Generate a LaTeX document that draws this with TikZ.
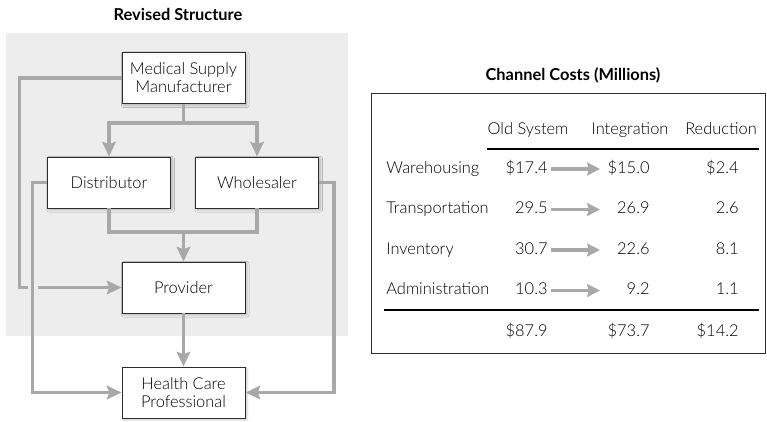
\documentclass[tikz,border=0pt]{standalone}
\usepackage{fontspec}
\setmainfont{Lato Light}[BoldFont={Lato Bold}]
\usetikzlibrary{arrows.meta, shadows.blur}

\begin{document}
\begin{tikzpicture}[
    x=0.03cm, y=-0.03cm,
    unit/.style={
        draw=boxline, fill=white, line width=0.8pt, minimum width=3.69cm, minimum height=1.53cm,
        align=center, font=\fontsize{14}{15.5}\selectfont, inner sep=2pt,
        blur shadow={shadow xshift=1.5pt, shadow yshift=-1.5pt, shadow opacity=25}
    },
    flow/.style={draw=flowgray, line width=3pt, -{Stealth[length=12.5pt, width=11.5pt, inset=2pt]}},
    link/.style={draw=flowgray, line width=3pt},
    heading/.style={font=\fontsize{14}{16}\selectfont\bfseries},
    cell/.style={font=\fontsize{14}{16}\selectfont, inner sep=1pt, text height=10pt, text depth=3pt},
    change/.style={draw=flowgray, line width=3pt, -{Stealth[length=11pt, width=11pt, inset=1.5pt]}}
]

% ============================
% COLOR DEFINITIONS
% ============================
\definecolor{bggray}{HTML}{EDEDED}     % panel behind the channel
\definecolor{flowgray}{HTML}{A8A8AA}   % connectors
\definecolor{boxline}{HTML}{2E2E2E}    % box outlines

\useasboundingbox (0,0) rectangle (767,421);

% ============================
% LEFT: Revised Structure
% ============================
\node[heading] (revtitle) at (178,14) {Revised Structure};
\fill[bggray] (6,33) rectangle (348,336);

% --- boxes ---
\node[unit] (man)   at (183.5,78)  {Medical Supply\\Manufacturer};
\node[unit] (dist)  at (109,182.5) {Distributor};
\node[unit] (whole) at (257,182.5) {Wholesaler};
\node[unit] (prov)  at (183.5,287.5) {Provider};
\node[unit] (hcp)   at (183.5,392.5) {Health Care\\Professional};

% --- split and merge points ---
\coordinate (split) at (183.5,123);
\coordinate (merge) at (183.5,232);

\draw[link] (man.south) -- (split);
\draw[flow] (split) -| (dist.north);
\draw[flow] (split) -| (whole.north);
\draw[link] (dist.south) |- (merge) -| (whole.south);
\draw[flow] (merge) -- (prov.north);
\draw[flow] (prov.south) -- (hcp.north);

% --- bypass routes ---
\draw[flow] (man.west) -- ++(-102,0) |- (prov.west);
\node[fill=bggray, inner sep=0pt, minimum width=0.3cm, minimum height=0.2cm] (gap) at (33,287.5) {};
\draw[flow] (dist.west) -- ++(-14.5,0) |- (hcp.west);
\draw[flow] (whole.east) -- ++(15,0) |- (hcp.east);

% ============================
% RIGHT: Channel Costs
% ============================
\node[heading] (costtitle) at (573,75) {Channel Costs (Millions)};
\draw[boxline, line width=0.8pt] (371,93) rectangle (765.5,353);

% --- column heads ---
\node[cell] (hold) at (528,130) {Old System};
\node[cell] (hnew) at (630,130) {Integration};
\node[cell] (hred) at (721,130) {Reduction};
\draw[black, line width=1.2pt] (487,149) -- (759,149);

\coordinate (tipx) at (600,0);

% --- rows ---
\foreach \lab/\old/\new/\red [count=\i] in {
    Warehousing/\$17.4/\$15.0/\$2.4,
    Transportation/29.5/26.9/2.6,
    Inventory/30.7/22.6/8.1,
    Administration/10.3/9.2/1.1}{
    \node[cell, anchor=west] (lab\i) at (385,128.5+40.5*\i) {\lab};
    \node[cell, anchor=east] (old\i) at (549,128.5+40.5*\i) {\old};
    \node[cell, anchor=east] (new\i) at (651,128.5+40.5*\i) {\new};
    \node[cell, anchor=east] (red\i) at (740,128.5+40.5*\i) {\red};
    \draw[change] ([xshift=2pt]old\i.east) -- (old\i.east -| tipx);
}

\draw[black, line width=1.2pt] (384,310) -- (759,310);

% --- totals ---
\node[cell, anchor=east] (oldsum) at (549,332) {\$87.9};
\node[cell, anchor=east] (newsum) at (651,332) {\$73.7};
\node[cell, anchor=east] (redsum) at (740,332) {\$14.2};

\end{tikzpicture}
\end{document}
